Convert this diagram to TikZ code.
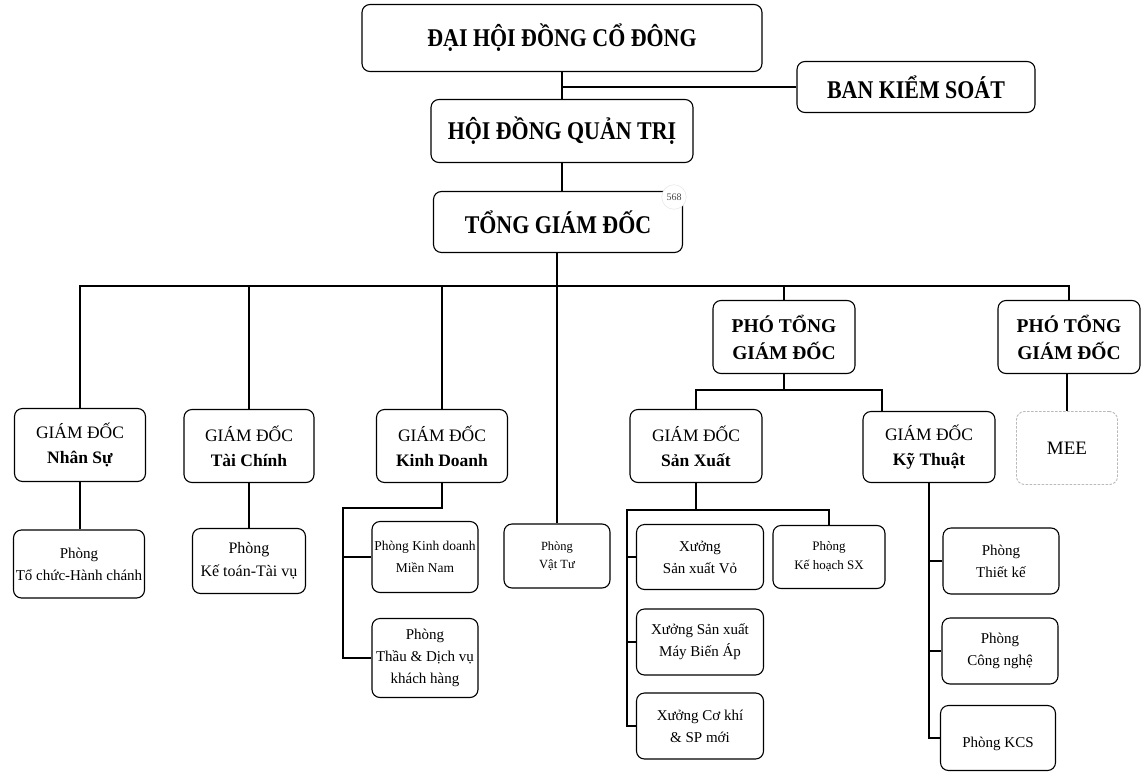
\documentclass[tikz,border=0pt]{standalone}
\usepackage{fontspec}
\setmainfont{Liberation Serif}
\newfontfamily\condfont{Liberation Serif}[FakeStretch=0.86]
\usetikzlibrary{calc}
\tikzset{
  box/.style={draw, line width=1.1pt, rounded corners=8pt, align=center, inner sep=0pt},
  topbox/.style={box, font=\condfont\bfseries\fontsize{25.5}{28}\selectfont},
  ptbox/.style={box, font=\bfseries\fontsize{19.5}{27}\selectfont, minimum width=142, minimum height=73},
  gdbox/.style={box, font=\fontsize{17.5}{25}\selectfont, minimum height=73},
  phbox/.style={box, font=\fontsize{15}{22}\selectfont},
  meebox/.style={draw=gray!55, line width=0.9pt, dash pattern=on 2.5pt off 1.5pt, rounded corners=8pt, align=center, inner sep=0pt, font=\fontsize{19}{22}\selectfont},
  conn/.style={line width=1.1pt}
}
\begin{document}
\begin{tikzpicture}[x=1pt,y=-1pt]
\useasboundingbox (0,0) rectangle (1145,771);
\fill[white] (0,0) rectangle (1145,771);

% top levels
\node[topbox, minimum width=400, minimum height=67] (dh) at (562,38) {ĐẠI HỘI ĐỒNG CỔ ĐÔNG};
\node[topbox, minimum width=238, minimum height=51] (bk) at (916,87) {BAN KIỂM SOÁT};
\node[topbox, minimum width=262, minimum height=63] (hd) at (562,131) {HỘI ĐỒNG QUẢN TRỊ};
\node[topbox, minimum width=249, minimum height=61] (tg) at (558,222) {TỔNG GIÁM ĐỐC};
\node[circle, fill=white, draw=gray!20, line width=0.5pt, inner sep=3pt, font=\fontsize{10}{11}\selectfont, text=gray!55!black] (badge) at (674,197) {568};

% deputy general directors
\node[ptbox] (pt1) at (784,337) {PHÓ TỔNG\\GIÁM ĐỐC};
\node[ptbox] (pt2) at (1069,337) {PHÓ TỔNG\\GIÁM ĐỐC};

% directors
\node[gdbox, minimum width=131] (ns) at (80,445) {GIÁM ĐỐC\\\textbf{Nhân Sự}};
\node[gdbox, minimum width=130] (tc) at (249,446) {GIÁM ĐỐC\\\textbf{Tài Chính}};
\node[gdbox, minimum width=131] (kd) at (442,446) {GIÁM ĐỐC\\\textbf{Kinh Doanh}};
\node[gdbox, minimum width=132] (sx) at (696,446) {GIÁM ĐỐC\\\textbf{Sản Xuất}};
\node[gdbox, minimum width=132, minimum height=71] (kt) at (929,447) {GIÁM ĐỐC\\\textbf{Kỹ Thuật}};
\node[meebox, minimum width=101, minimum height=73] (mee) at (1067,448) {MEE};

% departments
\node[phbox, minimum width=131, minimum height=68] (tchc) at (79,564) {Phòng\\Tổ chức-Hành chánh};
\node[phbox, minimum width=113, minimum height=65, font=\fontsize{16}{23}\selectfont] (ktv) at (249,561) {Phòng\\Kế toán-Tài vụ};
\node[phbox, minimum width=106, minimum height=71, font=\fontsize{13.5}{22}\selectfont] (kdmn) at (425,557) {Phòng Kinh doanh\\Miền Nam};
\node[phbox, minimum width=106, minimum height=79] (tdv) at (425,658) {Phòng\\Thầu \& Dịch vụ\\khách hàng};
\node[phbox, minimum width=106, minimum height=64, font=\fontsize{12.5}{18}\selectfont] (vt) at (557,556) {Phòng\\Vật Tư};
\node[phbox, minimum width=127, minimum height=65] (vo) at (700,557) {Xưởng\\Sản xuất Vỏ};
\node[phbox, minimum width=112, minimum height=63, font=\fontsize{13}{19}\selectfont] (khsx) at (829,557) {Phòng\\Kế hoạch SX};
\node[phbox, minimum width=127, minimum height=66] (mba) at (700,642) {Xưởng Sản xuất\\Máy Biến Áp};
\node[phbox, minimum width=127, minimum height=66] (ck) at (700,726) {Xưởng Cơ khí\\\& SP mới};
\node[phbox, minimum width=116, minimum height=66] (tk) at (1001,561) {Phòng\\Thiết kế};
\node[phbox, minimum width=116, minimum height=66] (cn) at (1000,651) {Phòng\\Công nghệ};
\node[phbox, minimum width=115, minimum height=65] (kcs) at (998,738) {~\\Phòng KCS};

% junction points
\coordinate (bus) at (559,286);
\coordinate (b2) at (784,390);
\coordinate (ktin) at (882,390);
\coordinate (kdb) at (343,508);
\coordinate (sxb) at (627,510);

% connectors top
\draw[conn] (dh.south) -- (hd.north);
\draw[conn] (bk.west) -- (bk.west -| dh.south);
\draw[conn] (hd.south) -- (hd.south |- tg.north);
\draw[conn] (tg.south -| vt.north) -- (vt.north);

% main bus
\draw[conn] (ns.north) -- (ns.north |- bus) -- (pt2.north |- bus) -- (pt2.north);
\draw[conn] (tc.north) -- (tc.north |- bus);
\draw[conn] (kd.north) -- (kd.north |- bus);
\draw[conn] (pt1.north) -- (pt1.north |- bus);

% deputy branches
\draw[conn] (pt2.south -| mee.north) -- (mee.north);
\draw[conn] (pt1.south) -- (b2);
\draw[conn] (sx.north) -- (sx.north |- b2) -- (ktin) -- (ktin |- kt.north);

% director branches
\draw[conn] (ns.south) -- (ns.south |- tchc.north);
\draw[conn] (tc.south) -- (ktv.north);

\draw[conn] (kd.south) -- (kd.south |- kdb) -- (kdb) -- (kdb |- tdv.west) -- (tdv.west);
\draw[conn] (kdb |- kdmn.west) -- (kdmn.west);

\draw[conn] (sx.south) -- (sx.south |- sxb) -- (sxb) -- (sxb |- ck.west) -- (ck.west);
\draw[conn] (sx.south |- sxb) -- (sxb -| khsx.north) -- (khsx.north);
\draw[conn] (sxb |- vo.west) -- (vo.west);
\draw[conn] (sxb |- mba.west) -- (mba.west);

\draw[conn] (kt.south) -- (kt.south |- kcs.west) -- (kcs.west);
\draw[conn] (kt.south |- tk.west) -- (tk.west);
\draw[conn] (kt.south |- cn.west) -- (cn.west);
\end{tikzpicture}
\end{document}
